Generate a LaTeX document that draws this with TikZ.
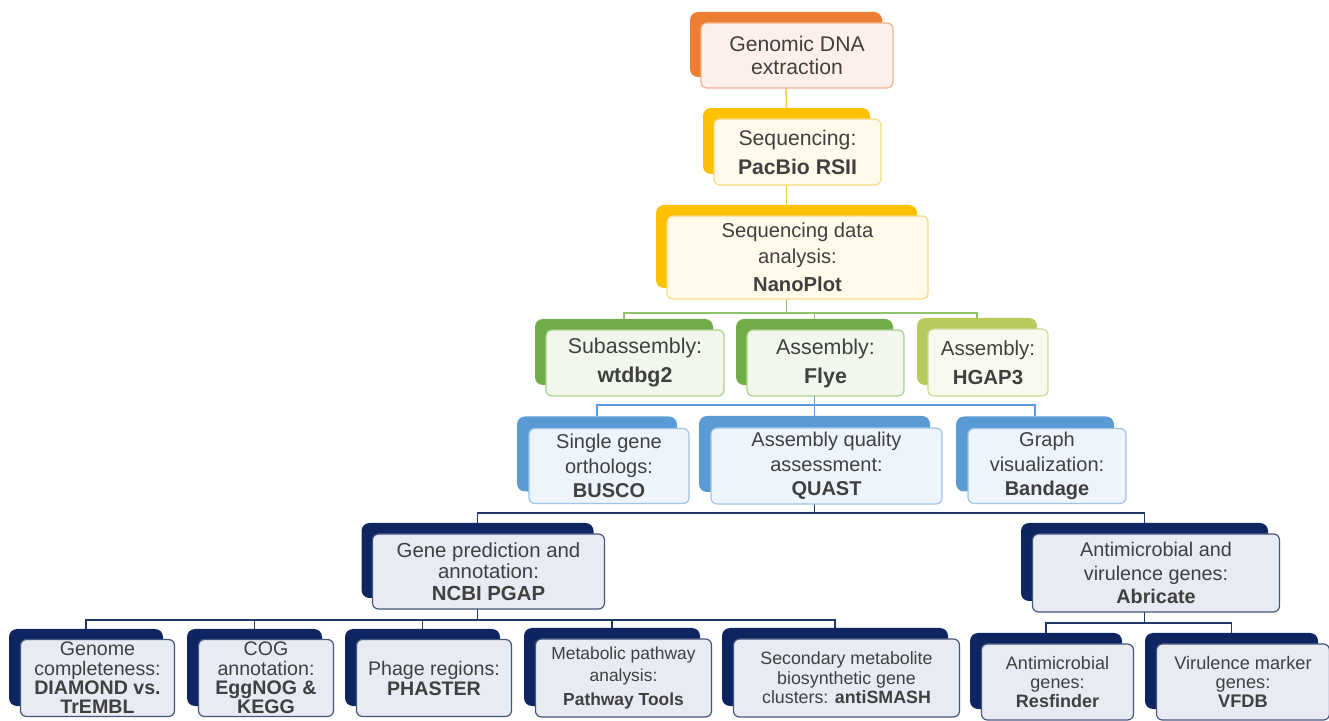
\documentclass[tikz,border=0pt]{standalone}
\usepackage{fontspec}
\setmainfont{Liberation Sans}
\usetikzlibrary{backgrounds}

\definecolor{txt}{HTML}{404040}
\definecolor{orgB}{HTML}{ED7D31}
\definecolor{orgF}{HTML}{FDF0EA}
\definecolor{orgL}{HTML}{F0B08E}
\definecolor{gldB}{HTML}{FFC000}
\definecolor{gldF}{HTML}{FFFAEA}
\definecolor{gldL}{HTML}{F6DA84}
\definecolor{gldC}{HTML}{F7C948}
\definecolor{grnB}{HTML}{70AD47}
\definecolor{grnF}{HTML}{F1F7ED}
\definecolor{grnL}{HTML}{A9D18E}
\definecolor{grnC}{HTML}{8DC46A}
\definecolor{limB}{HTML}{B6CB5C}
\definecolor{limF}{HTML}{F8FAEF}
\definecolor{limL}{HTML}{CCDC95}
\definecolor{bluB}{HTML}{5B9BD5}
\definecolor{bluF}{HTML}{EEF4FB}
\definecolor{bluL}{HTML}{9DC3E6}
\definecolor{navB}{HTML}{0E2562}
\definecolor{navF}{HTML}{E8EBF3}
\definecolor{navL}{HTML}{46557A}
\definecolor{navC}{HTML}{1F3864}

\newcommand{\fsz}[2]{\fontsize{#1}{#2}\selectfont}

\tikzset{
  bk/.style={rectangle, rounded corners=4pt, fill=#1, inner sep=0pt},
  fr/.style 2 args={rectangle, rounded corners=3pt, fill=#1, draw=#2, line width=0.6pt, inner sep=0pt, align=center, text=txt},
  lnk/.style={draw=#1, line width=0.8pt},
}

\begin{document}
\begin{tikzpicture}[x=0.5pt, y=-0.5pt]
\useasboundingbox (0,0) rectangle (1329,721);

% top chain
\node[bk=orgB, minimum width=96pt, minimum height=32.5pt] (dnaB) at (786,44.5) {};
\node[fr={orgF}{orgL}, minimum width=96pt, minimum height=32.5pt, font=\fsz{10.6}{11.5}] (dna) at (797,55.5) {Genomic DNA\\extraction};
\node[bk=gldB, minimum width=83.5pt, minimum height=33pt] (seqB) at (786.5,141) {};
\node[fr={gldF}{gldL}, minimum width=83.5pt, minimum height=33pt, font=\fsz{10.6}{12}] (seq) at (797.5,152) {Sequencing:\\[2.5pt]\textbf{PacBio RSII}};
\node[bk=gldB, minimum width=130.5pt, minimum height=41.5pt] (nanoB) at (786.5,246.5) {};
\node[fr={gldF}{gldL}, minimum width=130.5pt, minimum height=41.5pt, font=\fsz{10.1}{13}] (nano) at (797.5,257.5) {Sequencing data\\analysis:\\[1pt]\textbf{NanoPlot}};

% assemblers
\node[bk=grnB, minimum width=89pt, minimum height=33pt] (subB) at (624,352) {};
\node[fr={grnF}{grnL}, minimum width=89pt, minimum height=33pt, font=\fsz{10.7}{12}] (sub) at (635,363) {Subassembly:\\[2.5pt]\textbf{wtdbg2}};
\node[bk=grnB, minimum width=78.5pt, minimum height=33pt] (flyeB) at (814.5,352) {};
\node[fr={grnF}{grnL}, minimum width=78.5pt, minimum height=33pt, font=\fsz{10.7}{12}] (flye) at (825.5,363) {Assembly:\\[2.5pt]\textbf{Flye}};
\node[bk=limB, minimum width=60pt, minimum height=33.5pt] (hgapB) at (977,351.5) {};
\node[fr={limF}{limL}, minimum width=60pt, minimum height=33.5pt, font=\fsz{10.2}{12}] (hgap) at (988,362.5) {Assembly:\\[2.5pt]\textbf{HGAP3}};

% quality control
\node[bk=bluB, minimum width=80pt, minimum height=37.5pt] (buscoB) at (597,454) {};
\node[fr={bluF}{bluL}, minimum width=80pt, minimum height=37.5pt, font=\fsz{10}{12.3}] (busco) at (609,466) {Single gene\\orthologs:\\\textbf{BUSCO}};
\node[bk=bluB, minimum width=115.5pt, minimum height=38pt] (quastB) at (814.5,454) {};
\node[fr={bluF}{bluL}, minimum width=115.5pt, minimum height=38pt, font=\fsz{10}{12.3}] (quast) at (826.5,466) {Assembly quality\\assessment:\\\textbf{QUAST}};
\node[bk=bluB, minimum width=79pt, minimum height=37.5pt] (bandB) at (1035,454) {};
\node[fr={bluF}{bluL}, minimum width=79pt, minimum height=37.5pt, font=\fsz{10}{12.3}] (band) at (1047,466) {Graph\\visualization:\\\textbf{Bandage}};

% annotation
\node[bk=navB, minimum width=116pt, minimum height=37.5pt] (pgapB) at (477.5,560.5) {};
\node[fr={navF}{navL}, minimum width=116pt, minimum height=37.5pt, font=\fsz{10.2}{10.8}] (pgap) at (488.5,571.5) {Gene prediction and\\annotation:\\\textbf{NCBI PGAP}};
\node[bk=navB, minimum width=123.5pt, minimum height=39pt] (abrB) at (1144.5,562) {};
\node[fr={navF}{navL}, minimum width=123.5pt, minimum height=39pt, font=\fsz{9.9}{11.8}] (abr) at (1156,573) {Antimicrobial and\\virulence genes:\\\textbf{Abricate}};

% bottom row
\node[bk=navB, minimum width=77pt, minimum height=38.5pt] (genB) at (86,667.5) {};
\node[fr={navF}{navL}, minimum width=77pt, minimum height=38.5pt, font=\fsz{9.8}{9.7}] (gen) at (97.5,678) {Genome\\completeness:\\\textbf{DIAMOND vs.}\\\textbf{TrEMBL}};
\node[bk=navB, minimum width=67.5pt, minimum height=38.5pt] (cogB) at (254.5,667.5) {};
\node[fr={navF}{navL}, minimum width=67.5pt, minimum height=38.5pt, font=\fsz{9.8}{9.7}] (cog) at (266,678) {COG\\annotation:\\\textbf{EggNOG \&}\\\textbf{KEGG}};
\node[bk=navB, minimum width=77.5pt, minimum height=38.5pt] (phageB) at (422.5,667.5) {};
\node[fr={navF}{navL}, minimum width=77.5pt, minimum height=38.5pt, font=\fsz{9.8}{10}] (phage) at (434,678) {Phage regions:\\\textbf{PHASTER}};
\node[bk=navB, minimum width=88pt, minimum height=39pt] (metB) at (612,667) {};
\node[fr={navF}{navL}, minimum width=88pt, minimum height=39pt, font=\fsz{8.7}{11}] (met) at (623.5,678) {Metabolic pathway\\analysis:\\[1pt]\textbf{Pathway Tools}};
\node[bk=navB, minimum width=113pt, minimum height=39pt] (smashB) at (835,667) {};
\node[fr={navF}{navL}, minimum width=113pt, minimum height=39pt, font=\fsz{8.9}{9.8}] (smash) at (846.5,678) {Secondary metabolite\\biosynthetic gene\\clusters: \textbf{antiSMASH}};
\node[bk=navB, minimum width=76pt, minimum height=38pt] (resfB) at (1046,671) {};
\node[fr={navF}{navL}, minimum width=76pt, minimum height=38pt, font=\fsz{9}{9.6}] (resf) at (1057.5,682) {Antimicrobial\\genes:\\\textbf{Resfinder}};
\node[bk=navB, minimum width=86.5pt, minimum height=38pt] (vfdbB) at (1231.5,671) {};
\node[fr={navF}{navL}, minimum width=86.5pt, minimum height=38pt, font=\fsz{9.1}{9.6}] (vfdb) at (1243,682) {Virulence marker\\genes:\\\textbf{VFDB}};

% connectors
\begin{pgfonlayer}{background}
\fill[white] (0,0) rectangle (1329,721);
\coordinate (busG) at (786.5,313);
\coordinate (busB) at (814.5,405);
\coordinate (busN) at (814.5,513);
\coordinate (busP) at (477.5,620);
\coordinate (busA) at (1144.5,623);
\draw[lnk=gldC] (dnaB.south) -- (seqB.north);
\draw[lnk=gldC] (seqB.south) -- (nanoB.north);
\draw[lnk=grnC] (nanoB.south) -- (busG);
\draw[lnk=grnC] (subB.north) |- (busG) -| (hgapB.north);
\draw[lnk=grnC] (flyeB.north) -- (flyeB.north |- busG);
\draw[lnk=bluB] (flyeB.south) -- (busB);
\draw[lnk=bluB] (buscoB.north) |- (busB) -| (bandB.north);
\draw[lnk=bluB] (quastB.north) -- (busB);
\draw[lnk=navC] (quastB.south) -- (busN);
\draw[lnk=navC] (pgapB.north) |- (busN) -| (abrB.north);
\draw[lnk=navC] (pgapB.south) -- (busP);
\draw[lnk=navC] (genB.north) |- (busP) -| (smashB.north);
\draw[lnk=navC] (cogB.north) -- (cogB.north |- busP);
\draw[lnk=navC] (phageB.north) -- (phageB.north |- busP);
\draw[lnk=navC] (metB.north) -- (metB.north |- busP);
\draw[lnk=navC] (abrB.south) -- (busA);
\draw[lnk=navC] (resfB.north) |- (busA) -| (vfdbB.north);
\end{pgfonlayer}
\end{tikzpicture}
\end{document}
